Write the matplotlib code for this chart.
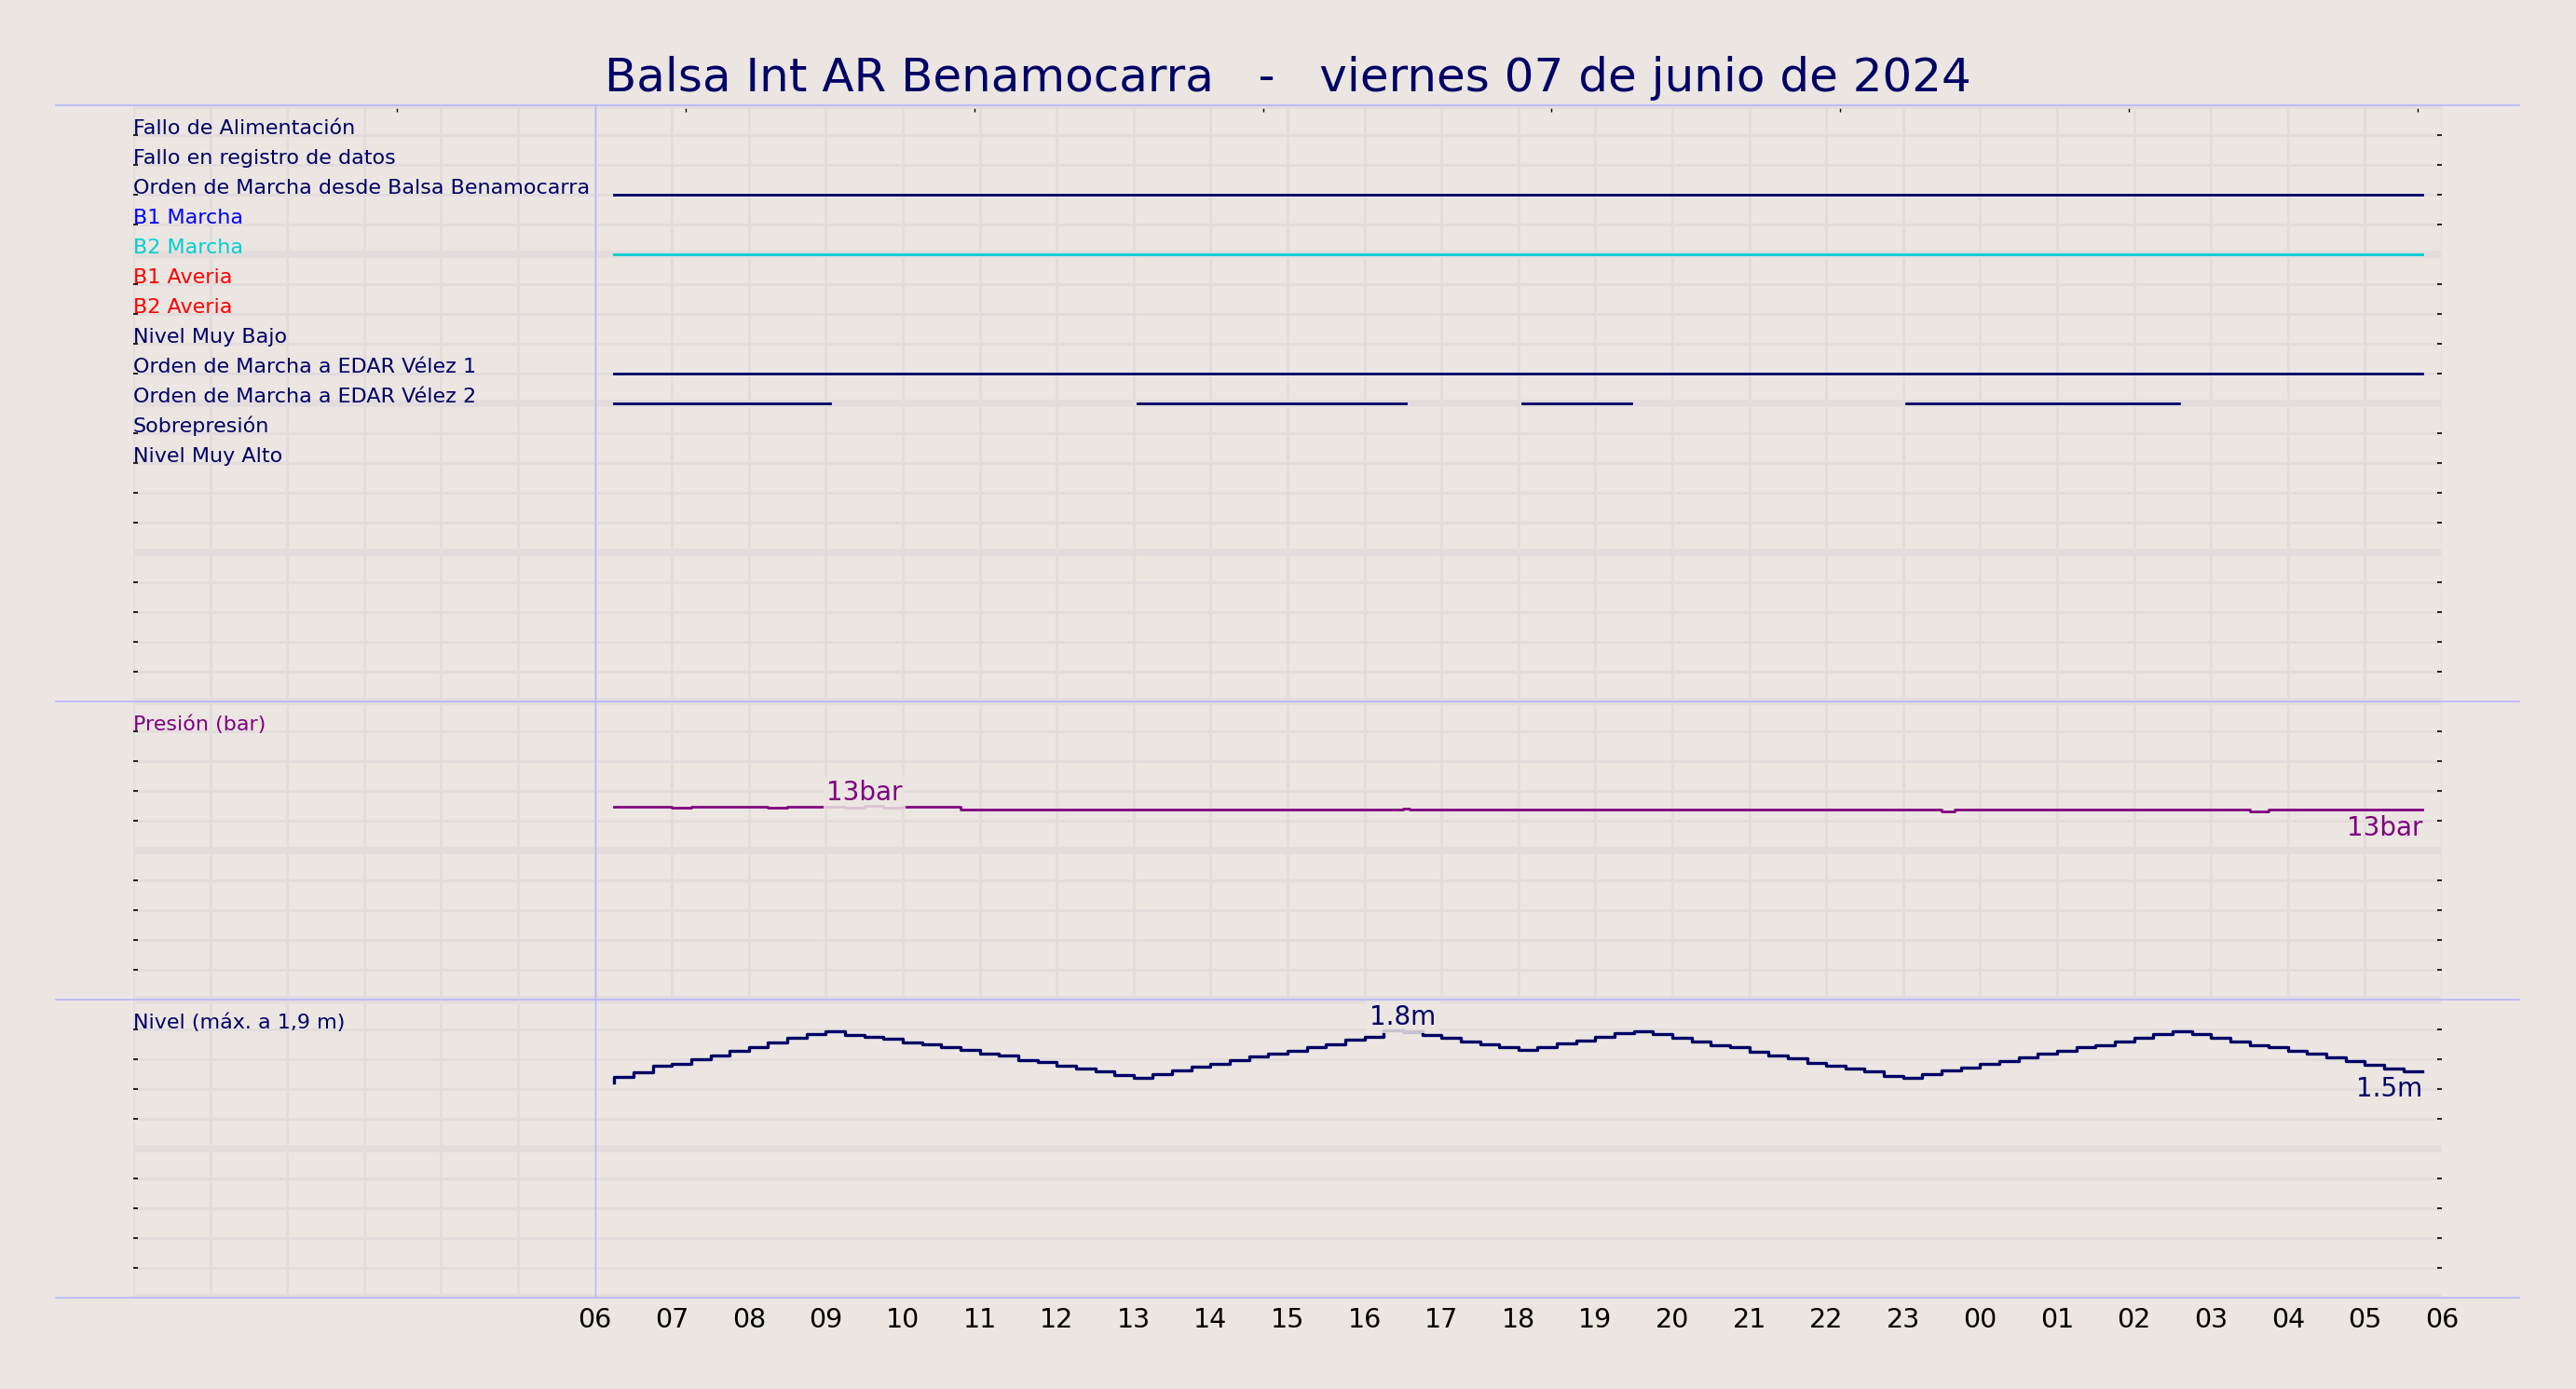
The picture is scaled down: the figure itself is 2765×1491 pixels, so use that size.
import numpy as np
import pandas as pd
import matplotlib
matplotlib.use('Agg')
import matplotlib.pyplot as plt
from matplotlib.ticker import MultipleLocator, FixedLocator, NullFormatter

BG = '#ebe6e1'
GRID = '#e2dddc'
SEP = '#b4b4ff'
NAVY = '#000066'

title = 'Balsa Int AR Benamocarra   -   viernes 07 de junio de 2024'

# digital signals (rows from top to bottom)
signal_names = [
    'Fallo de Alimentación',
    'Fallo en registro de datos',
    'Orden de Marcha desde Balsa Benamocarra',
    'B1 Marcha',
    'B2 Marcha',
    'B1 Averia',
    'B2 Averia',
    'Nivel Muy Bajo',
    'Orden de Marcha a EDAR Vélez 1',
    'Orden de Marcha a EDAR Vélez 2',
    'Sobrepresión',
    'Nivel Muy Alto',
]
signal_colors = [NAVY, NAVY, NAVY, 'blue', 'darkturquoise', 'red', 'red',
                 NAVY, NAVY, NAVY, NAVY, NAVY]
# periods with the signal active (start, end)
signal_on = {
    'Orden de Marcha desde Balsa Benamocarra': [('06:15', '05:45')],
    'B2 Marcha': [('06:15', '05:45')],
    'Orden de Marcha a EDAR Vélez 1': [('06:15', '05:45')],
    'Orden de Marcha a EDAR Vélez 2': [('06:15', '09:03'), ('13:03', '16:32'),
                                       ('18:03', '19:28'), ('23:02', '02:35')],
}

# pressure (bar), value changes
pressure_times = ['06:15', '07:00', '07:15', '08:15', '08:30', '09:15', '09:30',
                  '09:45', '10:00', '10:45', '16:30', '16:35', '23:30', '23:40',
                  '03:30', '03:45', '05:45']
pressure_bar = [12.95, 12.85, 12.95, 12.85, 12.95, 12.85, 12.97,
                12.85, 12.95, 12.72, 12.80, 12.72, 12.62, 12.72,
                12.62, 12.72, 12.72]

# level (m), every 15 minutes from 06:15
level_start = '2024-06-07 06:15'
level_m = [
    1.444, 1.481, 1.512, 1.554, 1.571, 1.600, 1.627, 1.658, 1.683, 1.715, 1.742, 1.769,
    1.790, 1.762, 1.752, 1.737, 1.715, 1.700, 1.683, 1.665, 1.637, 1.623, 1.596, 1.579,
    1.554, 1.540, 1.517, 1.492, 1.475, 1.502, 1.527, 1.550, 1.571, 1.596, 1.617, 1.637,
    1.658, 1.683, 1.700, 1.729, 1.752, 1.795, 1.790, 1.762, 1.746, 1.721, 1.700, 1.679,
    1.662, 1.680, 1.705, 1.728, 1.752, 1.777, 1.790, 1.767, 1.742, 1.717, 1.696, 1.679,
    1.648, 1.623, 1.608, 1.575, 1.558, 1.540, 1.519, 1.488, 1.477, 1.502, 1.523, 1.544,
    1.571, 1.590, 1.610, 1.637, 1.658, 1.683, 1.696, 1.721, 1.746, 1.769, 1.790, 1.769,
    1.746, 1.721, 1.696, 1.683, 1.658, 1.637, 1.612, 1.590, 1.565, 1.540, 1.521,
]

hour_ticks = list(range(6, 31))
top_ticks = [3.43, 7.18, 10.93, 14.68, 18.43, 22.18, 25.93, 29.68]

LABEL_FS = 16


def to_hours(s):
    h, m = map(int, s.split(':'))
    v = h + m / 60.0
    if v < 6:
        v += 24
    return v


def style(ax, ymax, ystep, major):
    ax.set_facecolor(BG)
    ax.set_xlim(0, 30)
    ax.set_ylim(0, ymax)
    for s in ax.spines.values():
        s.set_visible(False)
    ax.set_axisbelow(True)
    ax.xaxis.set_minor_locator(MultipleLocator(1))
    ax.tick_params(axis='x', which='minor', length=0)
    n = int(round(ymax / ystep))
    ax.yaxis.set_major_locator(FixedLocator([k * ystep for k in range(1, n)]))
    ax.yaxis.set_major_formatter(NullFormatter())
    ax.tick_params(axis='y', which='major', left=True, right=True, direction='in',
                   length=3.4, width=1.2, color='black')
    ax.grid(True, which='minor', axis='x', color=GRID, lw=2)
    ax.grid(True, which='major', axis='y', color=GRID, lw=2)
    for y in np.arange(0, ymax + 1e-9, major):
        ax.axhline(y, color=GRID, lw=5.5, zorder=0.6)
    ax.axvline(6, color=SEP, lw=1, zorder=1)
    ax.axhline(ymax, xmin=-1 / 30, xmax=31 / 30, color=SEP, lw=1.2,
               clip_on=False, zorder=3)


fig = plt.figure(figsize=(27.65, 14.91), dpi=100, facecolor=BG)
W, H = 2765, 1491
L = 143 / W
AW = 2478 / W
ax_sig = fig.add_axes([L, 1 - 753 / H, AW, 640 / H])
ax_p = fig.add_axes([L, 1 - 1073 / H, AW, 320 / H])
ax_l = fig.add_axes([L, 1 - 1393 / H, AW, 320 / H])

style(ax_sig, 20, 1, 5)
style(ax_p, 20, 2, 10)
style(ax_l, 2.0, 0.2, 1.0)
ax_l.axhline(0, xmin=-1 / 30, xmax=31 / 30, color=SEP, lw=1.2, clip_on=False, zorder=3)

# signals panel
ax_sig.set_xticks(top_ticks)
ax_sig.tick_params(axis='x', which='major', top=True, bottom=False, labelbottom=False,
                   direction='in', length=5, width=1, color='black')
for i, (name, col) in enumerate(zip(signal_names, signal_colors)):
    y = 19 - i
    ax_sig.text(0.0, y + 0.04, name, color=col, fontsize=LABEL_FS, ha='left', va='baseline')
    for s, e in signal_on.get(name, []):
        ax_sig.plot([to_hours(s), to_hours(e)], [y, y], color=col, lw=2,
                    solid_capstyle='projecting', zorder=4)

# pressure panel
ax_p.set_xticks([])
pt = np.array([to_hours(t) for t in pressure_times])
pv = np.array(pressure_bar)
ax_p.plot(pt, pv, drawstyle='steps-post', color='purple', lw=2, zorder=4)
ax_p.text(0.0, 18 + 0.08, 'Presión (bar)', color='purple', fontsize=LABEL_FS,
          ha='left', va='baseline')
i = int(np.argmax(pv))
ax_p.annotate(f'{pv[i]:.0f}bar', (pt[i], pv[i]), xytext=(0, 0), textcoords='offset points',
              ha='center', va='bottom', fontsize=20, color='purple', zorder=5,
              bbox=dict(boxstyle='square,pad=0.12', fc=BG, ec='none', alpha=0.85))
ax_p.annotate(f'{pv[-1]:.0f}bar', (pt[-1], pv[-1]), xytext=(0, -4), textcoords='offset points',
              ha='right', va='top', fontsize=20, color='purple', zorder=5)

# level panel
times = pd.date_range(level_start, periods=len(level_m), freq='15min')
lt = ((times - pd.Timestamp('2024-06-07')).total_seconds() / 3600.0).values
lv = np.array(level_m)
ax_l.plot(lt, lv, drawstyle='steps-pre', color=NAVY, lw=2.4, zorder=4)
ax_l.text(0.0, 1.8 + 0.008, 'Nivel (máx. a 1,9 m)', color=NAVY, fontsize=LABEL_FS,
          ha='left', va='baseline')
i = int(np.argmax(lv))
ax_l.annotate(f'{lv[i]:.1f}m', (lt[i], lv[i]), xytext=(0, 0), textcoords='offset points',
              ha='center', va='bottom', fontsize=20, color=NAVY, zorder=5,
              bbox=dict(boxstyle='square,pad=0.12', fc=BG, ec='none', alpha=0.85))
ax_l.annotate(f'{lv[-1]:.1f}m', (lt[-1], lv[-1]), xytext=(0, -4), textcoords='offset points',
              ha='right', va='top', fontsize=20, color=NAVY, zorder=5)

ax_l.set_xticks(hour_ticks)
ax_l.set_xticklabels([f'{h % 24:02d}' for h in hour_ticks])
ax_l.tick_params(axis='x', which='major', length=0, pad=7, labelsize=20.5, labelcolor='black')

fig.text(0.5, 1 - 98 / H, title, ha='center', va='baseline', fontsize=36, color=NAVY)

fig.savefig('out.png', dpi=100, facecolor=BG)
